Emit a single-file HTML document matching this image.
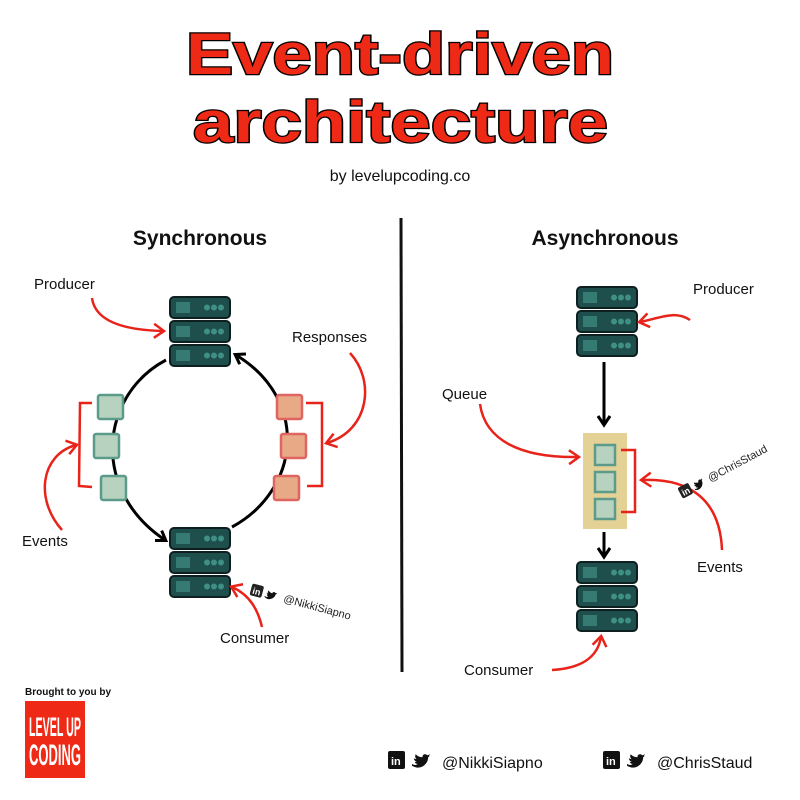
<!DOCTYPE html>
<html><head><meta charset="utf-8"><style>
html,body{margin:0;padding:0;background:#fff}
svg{display:block}
text{font-family:"Liberation Sans",sans-serif}
</style></head><body>
<svg width="800" height="800" viewBox="0 0 800 800" xmlns="http://www.w3.org/2000/svg">
<defs>
<g id="unit">
<rect x="0" y="0" width="60" height="21" rx="4" fill="#1f4f4d" stroke="#0d1f1f" stroke-width="2"/>
<g fill="#3f8f84">
<rect x="6" y="5" width="14" height="11" opacity="0.7"/>
<circle cx="37" cy="10.5" r="3"/><circle cx="44" cy="10.5" r="3"/><circle cx="51" cy="10.5" r="3"/>
</g>
</g>
<g id="server"><use href="#unit" y="0"/><use href="#unit" y="24"/><use href="#unit" y="48"/></g>
<g id="bird"><path d="M0,3 C3,5 5,4 6,3 C4,3 3,2 3,1 C4,1 4,1 5,1 C3,0 2,-1 2,-3 C3,-2 4,-2 5,-2 C3,-3 3,-6 4,-7 C6,-5 8,-4 11,-4 C11,-7 14,-8 16,-6 C17,-6 18,-7 19,-7 C18,-6 18,-5 17,-5 C18,-5 19,-5 19,-6 C18,-5 18,-4 17,-4 C17,2 12,7 6,7 C4,7 2,6 0,5 Z" fill="#111"/></g>
<marker id="ab" markerWidth="14" markerHeight="14" refX="9" refY="7" orient="auto" markerUnits="userSpaceOnUse"><path d="M1,1 L10,7 L1,13" fill="none" stroke="#000" stroke-width="3"/></marker>
<marker id="ar" markerWidth="14" markerHeight="16" refX="10" refY="8" orient="auto" markerUnits="userSpaceOnUse"><path d="M1,1 L11,8 L1,15" fill="none" stroke="#e8231a" stroke-width="2.5"/></marker>
</defs>

<g font-weight="bold" fill="#ee2a16" stroke="#000" stroke-width="2.5" paint-order="stroke" font-size="58">
<text x="186" y="74" textLength="428" lengthAdjust="spacingAndGlyphs">Event-driven</text>
<text x="193" y="142" textLength="415" lengthAdjust="spacingAndGlyphs">architecture</text>
</g>
<text x="400" y="181" text-anchor="middle" font-size="16" fill="#111">by levelupcoding.co</text>

<text x="200" y="245" text-anchor="middle" font-size="21" font-weight="bold" fill="#111">Synchronous</text>
<text x="605" y="245" text-anchor="middle" font-size="21" font-weight="bold" fill="#111">Asynchronous</text>

<path d="M401,218 L402,672" stroke="#111" stroke-width="3"/>

<use href="#server" x="170" y="297"/>
<use href="#server" x="170" y="528"/>
<path d="M166,360 C100,395 90,490 165,540" fill="none" stroke="#000" stroke-width="3" marker-end="url(#ab)"/>
<path d="M232,527 C300,490 310,400 236,355" fill="none" stroke="#000" stroke-width="3" marker-end="url(#ab)"/>
<g fill="#b7d3bf" stroke="#5c9a8a" stroke-width="2.5">
<rect x="98" y="395" width="25" height="24" rx="2"/><rect x="94" y="434" width="25" height="24" rx="2"/><rect x="101" y="476" width="25" height="24" rx="2"/>
</g>
<g fill="#e8a987" stroke="#e06560" stroke-width="2.5">
<rect x="277" y="395" width="25" height="24" rx="2"/><rect x="281" y="434" width="25" height="24" rx="2"/><rect x="274" y="476" width="25" height="24" rx="2"/>
</g>
<g fill="none" stroke="#e8231a" stroke-width="2.5">
<path d="M92,403 L80,403 L79,486 L92,487"/>
<path d="M306,403 L322,403 L322,486 L307,486"/>
</g>
<g fill="none" stroke="#e8231a" stroke-width="2.5">
<path d="M92,298 C95,320 120,330 163,331" marker-end="url(#ar)"/>
<path d="M350,353 C375,380 370,430 327,443" marker-end="url(#ar)"/>
<path d="M62,530 C35,500 40,455 76,445" marker-end="url(#ar)"/>
<path d="M262,627 C258,610 250,595 232,587" marker-end="url(#ar)"/>
</g>
<g font-size="15" fill="#111">
<text x="34" y="289">Producer</text>
<text x="292" y="342">Responses</text>
<text x="22" y="546">Events</text>
<text x="220" y="643">Consumer</text>
</g>
<g transform="translate(250,593) rotate(15)">
<rect x="0" y="-10" width="12" height="12" rx="2" fill="#222"/><text x="2" y="0" font-size="9" font-weight="bold" fill="#fff">in</text>
<use href="#bird" transform="translate(15,-3) scale(0.6)"/>
<text x="34" y="0" font-size="11" fill="#222">@NikkiSiapno</text>
</g>

<use href="#server" x="577" y="287"/>
<use href="#server" x="577" y="562"/>
<path d="M604,362 L604,424" stroke="#000" stroke-width="3" marker-end="url(#ab)"/>
<path d="M604,532 L604,556" stroke="#000" stroke-width="3" marker-end="url(#ab)"/>
<rect x="583" y="433" width="44" height="96" fill="#e3d196"/>
<g fill="#b7d3bf" stroke="#5c9a8a" stroke-width="2.5">
<rect x="595" y="445" width="20" height="20"/><rect x="595" y="472" width="20" height="20"/><rect x="595" y="499" width="20" height="20"/>
</g>
<g fill="none" stroke="#e8231a" stroke-width="2.5">
<path d="M621,450 L635,450 L635,512 L621,512"/>
<path d="M480,404 C485,440 520,458 578,457" marker-end="url(#ar)"/>
<path d="M690,320 C675,310 660,318 640,322" marker-end="url(#ar)"/>
<path d="M722,550 C720,500 690,478 642,480" marker-end="url(#ar)"/>
<path d="M552,670 C585,668 598,655 601,637" marker-end="url(#ar)"/>
</g>
<g font-size="15" fill="#111">
<text x="693" y="294">Producer</text>
<text x="442" y="399">Queue</text>
<text x="697" y="572">Events</text>
<text x="464" y="675">Consumer</text>
</g>
<g transform="translate(682,497) rotate(-28)">
<rect x="0" y="-10" width="12" height="12" rx="2" fill="#222"/><text x="2" y="0" font-size="9" font-weight="bold" fill="#fff">in</text>
<use href="#bird" transform="translate(15,-3) scale(0.6)"/>
<text x="32" y="0" font-size="11" fill="#222">@ChrisStaud</text>
</g>

<text x="25" y="695" font-size="10" font-weight="bold" fill="#111">Brought to you by</text>
<rect x="25" y="701" width="60" height="77" fill="#ee2a16"/>
<text x="55" y="736" text-anchor="middle" font-size="27" font-weight="bold" fill="#fff" textLength="52" lengthAdjust="spacingAndGlyphs">LEVEL UP</text>
<text x="55" y="765" text-anchor="middle" font-size="30" font-weight="bold" fill="#fff" textLength="52" lengthAdjust="spacingAndGlyphs">CODING</text>

<g>
<rect x="388" y="751" width="17" height="18" rx="2" fill="#111"/><text x="391" y="765" font-size="11" font-weight="bold" fill="#fff">in</text>
<use href="#bird" transform="translate(412,761) scale(0.95)"/>
<text x="442" y="768" font-size="16" fill="#111">@NikkiSiapno</text>
<rect x="603" y="751" width="17" height="18" rx="2" fill="#111"/><text x="606" y="765" font-size="11" font-weight="bold" fill="#fff">in</text>
<use href="#bird" transform="translate(627,761) scale(0.95)"/>
<text x="657" y="768" font-size="16" fill="#111">@ChrisStaud</text>
</g>
</svg>
</body></html>
